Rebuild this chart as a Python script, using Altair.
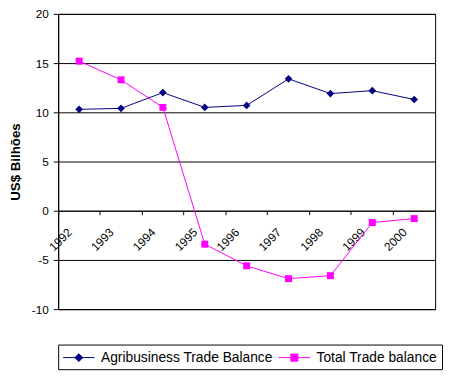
import altair as alt
import pandas as pd

years = ["1992", "1993", "1994", "1995", "1996", "1997", "1998", "1999", "2000"]
agri = [10.3, 10.4, 12.0, 10.5, 10.7, 13.4, 11.9, 12.2, 11.3]
total = [15.2, 13.3, 10.5, -3.4, -5.6, -6.9, -6.6, -1.2, -0.8]
series = ["Agribusiness Trade Balance", "Total Trade balance"]
colors = ["#000080", "#FF00FF"]
y_ticks = [-10, -5, 0, 5, 10, 15, 20]

rows = []
for yr, a, t in zip(years, agri, total):
    rows.append({"Year": yr, "Series": series[0], "Value": a})
    rows.append({"Year": yr, "Series": series[1], "Value": t})
df = pd.DataFrame(rows)

x_enc = alt.X(
    "Year:N", sort=years,
    scale=alt.Scale(type="band", paddingInner=0, paddingOuter=0),
    axis=alt.Axis(title=None, bandPosition=0, labelAngle=-45, labelAlign="right",
                  labelBaseline="top", labelOffset=-13, labelPadding=12, tickSize=4,
                  offset=-100, domainColor="black", tickColor="black",
                  labelColor="black", labelFont="Arial", labelFontSize=12,
                  grid=False, labelOverlap=False),
)
y_enc = alt.Y(
    "Value:Q",
    scale=alt.Scale(domain=[-10, 20], nice=False, zero=False),
    axis=alt.Axis(values=y_ticks, title="US$ Bilhões", titleFont="Arial",
                  titleFontWeight="bold", titleFontSize=13.5, titleColor="black",
                  titleAngle=-90, titleX=-43, titleY=150, titleAlign="center",
                  titleBaseline="middle", labelFont="Arial", labelFontSize=12,
                  labelColor="black", tickSize=5, tickColor="black", labelPadding=5,
                  labelExpr="datum.value + ''",
                  domainColor="black", gridColor="black", gridOpacity=1, grid=True),
)

color_scale = alt.Scale(domain=series, range=colors)

lines = alt.Chart(df).mark_line(strokeWidth=1).encode(
    x=x_enc, y=y_enc,
    color=alt.Color("Series:N", scale=color_scale, legend=None),
)
points = alt.Chart(df).mark_point(filled=True, opacity=1).encode(
    x=x_enc, y=y_enc,
    color=alt.Color("Series:N", scale=color_scale, legend=None),
    shape=alt.Shape("Series:N", scale=alt.Scale(domain=series, range=["diamond", "square"]), legend=None),
    size=alt.Size("Series:N", scale=alt.Scale(domain=series, range=[60, 50]), legend=None),
)

# legend-only layer (no data rows), symbols = line segment + marker
path_agri = "M-2,0L2,0M0,-0.5L0.5,0L0,0.5L-0.5,0Z"
path_total = "M-2,0L2,0M-0.45,-0.45L0.45,-0.45L0.45,0.45L-0.45,0.45Z"
leg = alt.Legend(title=None, orient="none", legendX=0, legendY=336,
                 direction="horizontal", symbolSize=256, symbolOffset=8,
                 labelOffset=14, columnPadding=3, padding=4.5,
                 strokeColor="black", labelFont="Arial", labelFontSize=14,
                 labelColor="black", labelLimit=400, symbolStrokeWidth=1)
legend_layer = alt.Chart(df).transform_filter("false").mark_point(
    filled=True, opacity=1, strokeWidth=1
).encode(
    fill=alt.Fill("Series:N", scale=color_scale, legend=leg),
    stroke=alt.Stroke("Series:N", scale=color_scale, legend=leg),
    shape=alt.Shape("Series:N", scale=alt.Scale(domain=series, range=[path_agri, path_total]), legend=leg),
)

chart = alt.layer(lines, points, legend_layer).resolve_scale(
    shape="independent", fill="independent", stroke="independent"
).properties(
    width=383, height=300,
    autosize=alt.AutoSizeParams(type="none"),
    padding={"left": 51, "top": 3, "right": 8, "bottom": 68},
    background="white",
).configure_view(stroke="black", strokeWidth=1)

chart.save("out.html", embed_options={"renderer": "svg", "actions": False})
